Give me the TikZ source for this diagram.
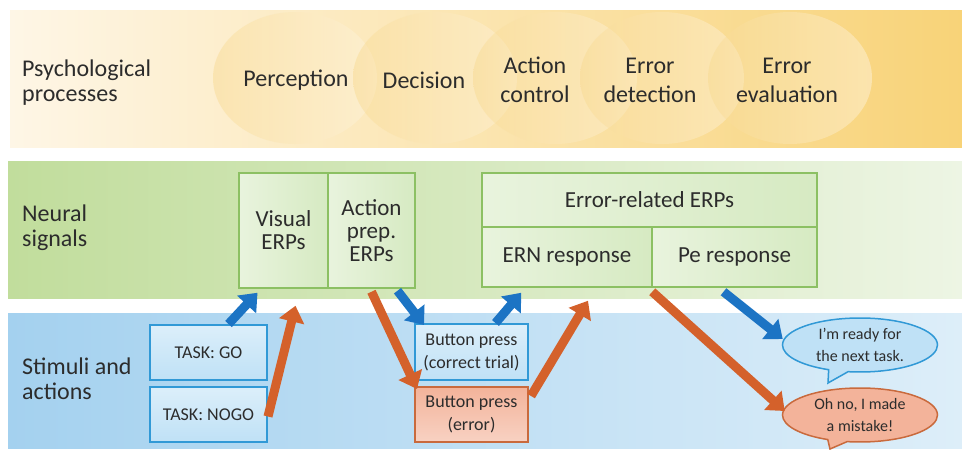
\documentclass[tikz,border=0pt]{standalone}
\usepackage{fontspec}
\setmainfont{Carlito}
\usetikzlibrary{arrows.meta, calc, shapes.callouts}

\definecolor{txt}{HTML}{2C2C2C}
\definecolor{sandL}{HTML}{FEF6E6}
\definecolor{sandR}{HTML}{F8D378}
\definecolor{blobL}{HTML}{F8D98E}
\definecolor{blobR}{HTML}{FFF6E4}
\definecolor{leafL}{HTML}{C1DD9C}
\definecolor{leafR}{HTML}{EDF5E4}
\definecolor{skyL}{HTML}{A4D1EF}
\definecolor{skyR}{HTML}{DDEEF9}
\definecolor{erpline}{HTML}{8CC063}
\definecolor{erpfill}{HTML}{D6EAC2}
\definecolor{taskline}{HTML}{3199D6}
\definecolor{taskfill}{HTML}{BFE1F6}
\definecolor{errline}{HTML}{C96A3D}
\definecolor{errfill}{HTML}{F3B39A}
\definecolor{bluearr}{HTML}{1C74C4}
\definecolor{orangearr}{HTML}{D4612B}

\tikzset{
  rowlabel/.style={anchor=west, align=left, text=txt, inner sep=0pt, font=\fontsize{24}{25}\selectfont},
  process/.style={align=center, text=txt, font=\fontsize{24}{29}\selectfont},
  erpbox/.style={draw=erpline, line width=1.5pt, left color=erpfill!55!white, right color=erpfill,
    inner sep=0pt, align=center, text=txt, font=\fontsize{23}{23}\selectfont},
  taskbox/.style={draw=taskline, line width=2pt, top color=taskfill!55!white, bottom color=taskfill,
    inner sep=0pt, align=center, text=txt, font=\fontsize{18}{23}\selectfont},
  errbox/.style={taskbox, draw=errline, top color=errfill, bottom color=errfill!60!white},
  bubble/.style={ellipse callout, line width=1.5pt, inner sep=0pt, align=center, text=txt,
    minimum width=155pt, minimum height=54pt, font=\fontsize{16}{22}\selectfont},
  bluearrow/.style={bluearr, line width=9pt, -{Triangle[length=16pt,width=25pt]}},
  orangearrow/.style={orangearr, line width=9pt, -{Triangle[length=16pt,width=25pt]}}
}

\begin{document}
\begin{tikzpicture}[x=1pt, y=-1pt]
\useasboundingbox (0,0) rectangle (962,450);

% three bands
\shade[left color=sandL, right color=sandR] (10,10) rectangle (962,147);
\shade[left color=leafL, right color=leafR] (8,161) rectangle (962,298);
\shade[left color=skyL, right color=skyR] (8,313) rectangle (962,448);

\foreach \cx in {295,435,555,662,790}
  \shade[left color=blobL, right color=blobR, opacity=0.45] (\cx,78) ellipse [x radius=82pt, y radius=66pt];

\node[rowlabel] (psy) at (22,83) {Psychological\\processes};
\node[rowlabel] (neural) at (22,228) {Neural\\signals};
\node[rowlabel] (stim) at (22,379) {Stimuli and\\actions};

\node[process] (perc) at (296,80) {Perception};
\node[process] (deci) at (424,80) {Decision};
\node[process] (actc) at (535,80) {Action\\control};
\node[process] (errd) at (650,80) {Error\\detection};
\node[process] (erre) at (787,80) {Error\\evaluation};

% neural signals
\node[erpbox, minimum width=89pt, minimum height=115pt] (vis) at (283.5,230.5) {Visual\\ERPs};
\node[erpbox, minimum width=87pt, minimum height=115pt] (prep) at (371.5,230.5) {Action\\prep.\\ERPs};
\node[erpbox, minimum width=335pt, minimum height=54pt] (erp) at (649.5,200) {Error-related ERPs};
\node[erpbox, minimum width=170pt, minimum height=60pt] (ern) at (567,257) {ERN response};
\node[erpbox, minimum width=165pt, minimum height=60pt] (pe) at (734.5,257) {Pe response};

% stimuli and actions
\node[taskbox, minimum width=117pt, minimum height=55pt] (go) at (208.5,352.5) {TASK: GO};
\node[taskbox, minimum width=117pt, minimum height=55pt] (nogo) at (208.5,414.5) {TASK: NOGO};
\node[taskbox, minimum width=113pt, minimum height=56pt] (bpc) at (471.5,352) {Button press\\(correct trial)};
\node[errbox, minimum width=113pt, minimum height=55pt] (bpe) at (471.5,414.5) {Button press\\(error)};

\node[bubble, draw=taskline, fill=taskfill, callout absolute pointer={(828,383)}] (ready) at (860,345) {I'm ready for\\the next task.};
\node[bubble, draw=errline, fill=errfill, callout absolute pointer={(830,449)}] (oops) at (860,415) {Oh no, I made\\a mistake!};

% arrows
\draw[bluearrow] ($(go.north)+(20,0)$) -- ($(vis.south)+(-26,4)$);
\draw[orangearrow] ($(nogo.east)+(0,2)$) -- ($(vis.south)+(12,17)$);
\draw[orangearrow] ($(prep.south)+(0,3)$) -- ($(bpe.north west)+(3,3)$);
\draw[bluearrow] ($(prep.south)+(26,2)$) -- ($(bpc.north west)+(10,2)$);
\draw[bluearrow] ($(bpc.north)+(24,0)$) -- ($(ern.south west)+(40,5)$);
\draw[orangearrow] ($(bpe.north east)+(2,10)$) -- ($(ern.south)+(21,13)$);
\draw[orangearrow] ($(pe.south west)+(1,4)$) -- ($(oops.west)+(3,-4)$);
\draw[bluearrow] ($(pe.south)+(-11,4)$) -- ($(ready.west)+(1,-6)$);
\end{tikzpicture}
\end{document}
